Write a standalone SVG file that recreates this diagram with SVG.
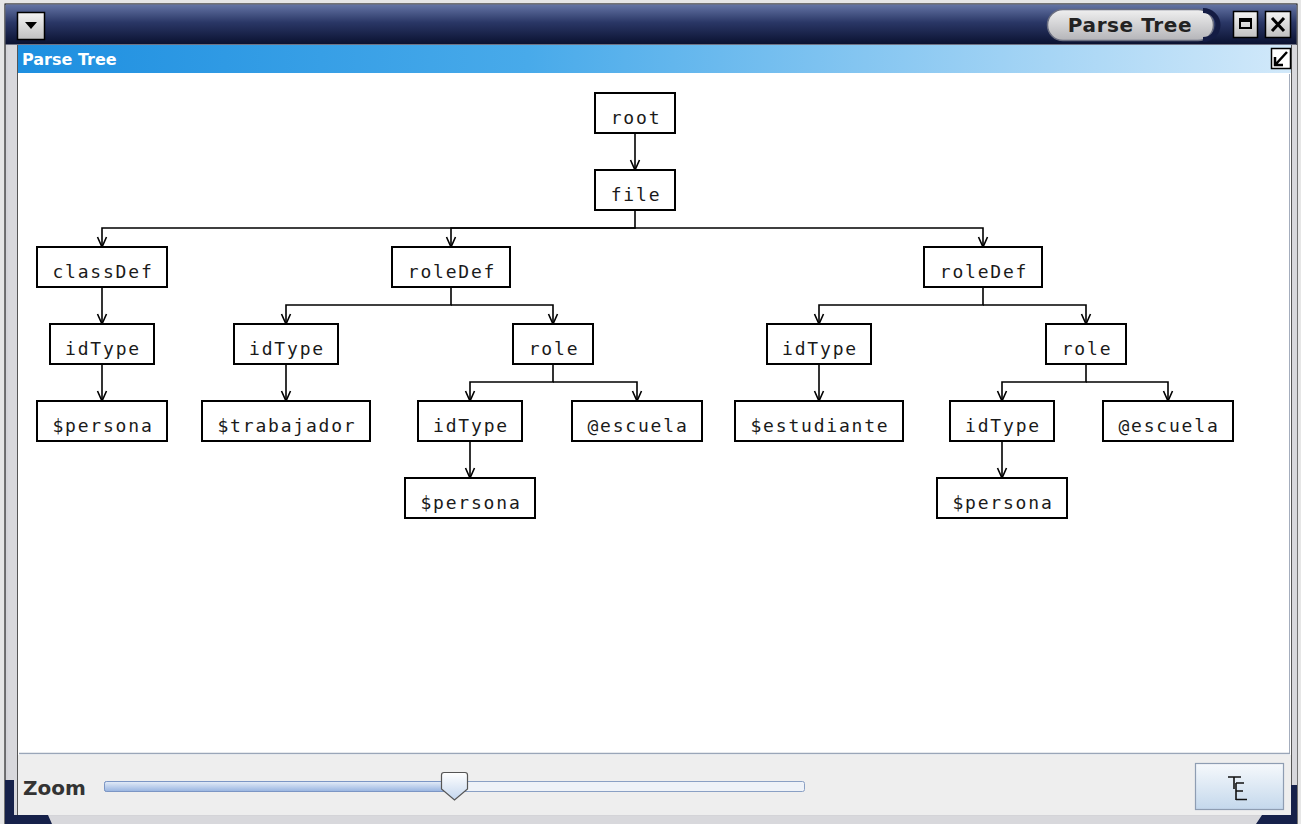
<svg xmlns="http://www.w3.org/2000/svg" width="1301" height="824" viewBox="0 0 1301 824">
<defs>
<style>
.node rect{fill:#fff;stroke:#000;stroke-width:2}
.node text{font-family:"DejaVu Sans Mono","Liberation Mono",monospace;font-size:18px;letter-spacing:1.8px;fill:#1a1a1a;text-anchor:middle}
.edge{fill:none;stroke:#000;stroke-width:1.6}
</style>
<marker id="arr" markerUnits="userSpaceOnUse" viewBox="-11 -6 12 12" refX="0" refY="0" markerWidth="12" markerHeight="12" orient="auto" overflow="visible">
<path d="M-10,-4.5 L0,0 L-10,4.5" fill="none" stroke="#000" stroke-width="1.6"/>
</marker>
<linearGradient id="title" x1="0" y1="0" x2="0" y2="1">
<stop offset="0" stop-color="#6474a4"/><stop offset="0.45" stop-color="#2a3766"/><stop offset="1" stop-color="#0a1130"/>
</linearGradient>
<linearGradient id="hdr" x1="0" y1="0" x2="1" y2="0">
<stop offset="0" stop-color="#1e8fe0"/><stop offset="0.4" stop-color="#48aaea"/><stop offset="1" stop-color="#d2e9fa"/>
</linearGradient>
<linearGradient id="pill" x1="0" y1="0" x2="0" y2="1">
<stop offset="0" stop-color="#f0f0f0"/><stop offset="1" stop-color="#b4b4b8"/>
</linearGradient>
<linearGradient id="gbtn" x1="0" y1="0" x2="0" y2="1">
<stop offset="0" stop-color="#f4f4f4"/><stop offset="1" stop-color="#c0c0c0"/>
</linearGradient>
<linearGradient id="track" x1="0" y1="0" x2="0" y2="1">
<stop offset="0" stop-color="#e4ecf8"/><stop offset="1" stop-color="#98b4e0"/>
</linearGradient>
<linearGradient id="thumb" x1="0" y1="0" x2="0" y2="1">
<stop offset="0" stop-color="#ffffff"/><stop offset="1" stop-color="#c4d6ee"/>
</linearGradient>
<linearGradient id="tbtn" x1="0" y1="0" x2="0" y2="1">
<stop offset="0" stop-color="#f6f9fc"/><stop offset="1" stop-color="#c4d8ec"/>
</linearGradient>
</defs>

<!-- window chrome -->
<g id="window">
<rect x="0" y="0" width="1301" height="824" fill="#e6e6e6"/>
<rect x="5" y="4" width="1292" height="820" fill="#d4d4d8" stroke="#000" stroke-width="1"/>
<rect x="5.5" y="4.5" width="1291" height="40" fill="url(#title)"/>
<rect x="8" y="45" width="9" height="772" fill="#d8d8dc"/>
<rect x="1291" y="45" width="6" height="772" fill="#d8d8dc"/>
<line x1="17.5" y1="45" x2="17.5" y2="816" stroke="#555" stroke-width="1"/>
<line x1="1291.5" y1="45" x2="1291.5" y2="816" stroke="#555" stroke-width="1"/>
<rect x="8" y="816" width="1283" height="8" fill="#d8d8dc"/>
<path d="M5,780 H14 V815 H48 L52,824 H5 Z" fill="#16214a"/>
<path d="M1297,785 H1291 V815 H1262 L1256,824 H1297 Z" fill="#16214a"/>
<rect x="17.5" y="12.5" width="27" height="27" fill="url(#gbtn)" stroke="#000" stroke-width="1.5"/>
<path d="M25,22 H37 L31,29 Z" fill="#000"/>
<rect x="1047.5" y="9.5" width="166" height="31" rx="15.5" fill="url(#pill)" stroke="#6a6e80" stroke-width="1.5"/>
<path d="M1203,10.5 A15,14.5 0 0 1 1203,39.5" fill="none" stroke="#141c44" stroke-width="5"/>
<text x="1130" y="32" font-family="DejaVu Sans, Liberation Sans, sans-serif" font-size="20" font-weight="bold" fill="#222" text-anchor="middle" letter-spacing="0.6">Parse Tree</text>
<rect x="1233.5" y="11.5" width="24" height="26" fill="url(#gbtn)" stroke="#000" stroke-width="1.5"/>
<rect x="1240" y="19" width="11" height="9" fill="none" stroke="#000" stroke-width="2"/>
<rect x="1240" y="19" width="11" height="3" fill="#000"/>
<rect x="1265.5" y="11.5" width="25" height="26" fill="url(#gbtn)" stroke="#000" stroke-width="1.5"/>
<path d="M1272,18 L1284,31 M1284,18 L1272,31" stroke="#000" stroke-width="3"/>
<rect x="18" y="45" width="1273" height="28" fill="url(#hdr)"/>
<text x="22" y="65" font-family="DejaVu Sans, Liberation Sans, sans-serif" font-size="16" font-weight="bold" fill="#fff">Parse Tree</text>
<rect x="1271.5" y="48.5" width="19" height="20" fill="#fff" stroke="#000" stroke-width="1.5"/>
<path d="M1287,52 L1276,64 M1275,57 V65 H1283" fill="none" stroke="#000" stroke-width="2.5"/>
<rect x="18" y="73" width="1273" height="682" fill="#fff"/>
<line x1="1289.5" y1="74" x2="1289.5" y2="754" stroke="#a4adbd" stroke-width="1"/>
<line x1="19" y1="753.5" x2="1290" y2="753.5" stroke="#9aa6b8" stroke-width="1.5"/>
<rect x="18" y="755" width="1273" height="60" fill="#eeeeee"/>
<text x="23" y="795" font-family="DejaVu Sans, Liberation Sans, sans-serif" font-size="20" font-weight="bold" fill="#333">Zoom</text>
<rect x="104.5" y="781.5" width="700" height="10" rx="2" fill="#eef2f8" stroke="#8aa0c4" stroke-width="1"/>
<rect x="104.5" y="781.5" width="350" height="10" rx="2" fill="url(#track)" stroke="#7c96c4" stroke-width="1"/>
<path d="M441.5,775 Q441.5,772.5 444,772.5 H465 Q467.5,772.5 467.5,775 V789 L454.5,800 L441.5,789 Z" fill="url(#thumb)" stroke="#555" stroke-width="1.2"/>
<rect x="1195.5" y="763.5" width="88" height="46" fill="url(#tbtn)" stroke="#8e9db2" stroke-width="1.2"/>
<path d="M1228,777 H1241 M1234,777 V789 M1236,783 V800 M1236,783 H1244 M1236,791 H1243 M1236,799.5 H1247" fill="none" stroke="#111" stroke-width="1.6"/>
</g>

<!-- connectors -->
<g id="connectors">
<path class="edge" d="M635,133 V170" marker-end="url(#arr)"/>
<path class="edge" d="M635,210 V228 H102 V247" marker-end="url(#arr)"/>
<path class="edge" d="M635,228 H451 V247" marker-end="url(#arr)"/>
<path class="edge" d="M635,228 H983 V247" marker-end="url(#arr)"/>
<path class="edge" d="M102,287 V324" marker-end="url(#arr)"/>
<path class="edge" d="M102,364 V401" marker-end="url(#arr)"/>
<path class="edge" d="M451,287 V305 H286 V324" marker-end="url(#arr)"/>
<path class="edge" d="M451,305 H553 V324" marker-end="url(#arr)"/>
<path class="edge" d="M286,364 V401" marker-end="url(#arr)"/>
<path class="edge" d="M553,364 V382 H470 V401" marker-end="url(#arr)"/>
<path class="edge" d="M553,382 H637 V401" marker-end="url(#arr)"/>
<path class="edge" d="M470,441 V478" marker-end="url(#arr)"/>
<path class="edge" d="M983,287 V305 H819 V324" marker-end="url(#arr)"/>
<path class="edge" d="M983,305 H1086 V324" marker-end="url(#arr)"/>
<path class="edge" d="M819,364 V401" marker-end="url(#arr)"/>
<path class="edge" d="M1086,364 V382 H1002 V401" marker-end="url(#arr)"/>
<path class="edge" d="M1086,382 H1168 V401" marker-end="url(#arr)"/>
<path class="edge" d="M1002,441 V478" marker-end="url(#arr)"/>
</g>

<!-- nodes -->
<g id="n-root" class="node"><rect x="595" y="93" width="80" height="40"/><text x="636" y="124">root</text></g>
<g id="n-file" class="node"><rect x="595" y="170" width="80" height="40"/><text x="636" y="201">file</text></g>
<g id="n-classDef" class="node"><rect x="37" y="247" width="130" height="40"/><text x="103" y="278">classDef</text></g>
<g id="n-roleDef1" class="node"><rect x="392" y="247" width="118" height="40"/><text x="452" y="278">roleDef</text></g>
<g id="n-roleDef2" class="node"><rect x="924" y="247" width="118" height="40"/><text x="984" y="278">roleDef</text></g>
<g id="n-idType1" class="node"><rect x="50" y="324" width="104" height="40"/><text x="103" y="355">idType</text></g>
<g id="n-idType2" class="node"><rect x="234" y="324" width="104" height="40"/><text x="287" y="355">idType</text></g>
<g id="n-role1" class="node"><rect x="513" y="324" width="80" height="40"/><text x="554" y="355">role</text></g>
<g id="n-idType4" class="node"><rect x="767" y="324" width="104" height="40"/><text x="820" y="355">idType</text></g>
<g id="n-role2" class="node"><rect x="1046" y="324" width="80" height="40"/><text x="1087" y="355">role</text></g>
<g id="n-persona1" class="node"><rect x="37" y="401" width="130" height="40"/><text x="103" y="432">$persona</text></g>
<g id="n-trabajador" class="node"><rect x="202" y="401" width="168" height="40"/><text x="287" y="432">$trabajador</text></g>
<g id="n-idType3" class="node"><rect x="418" y="401" width="104" height="40"/><text x="471" y="432">idType</text></g>
<g id="n-escuela1" class="node"><rect x="572" y="401" width="130" height="40"/><text x="638" y="432">@escuela</text></g>
<g id="n-estudiante" class="node"><rect x="735" y="401" width="168" height="40"/><text x="820" y="432">$estudiante</text></g>
<g id="n-idType5" class="node"><rect x="950" y="401" width="104" height="40"/><text x="1003" y="432">idType</text></g>
<g id="n-escuela2" class="node"><rect x="1103" y="401" width="130" height="40"/><text x="1169" y="432">@escuela</text></g>
<g id="n-persona2" class="node"><rect x="405" y="478" width="130" height="40"/><text x="471" y="509">$persona</text></g>
<g id="n-persona3" class="node"><rect x="937" y="478" width="130" height="40"/><text x="1003" y="509">$persona</text></g>
</svg>
